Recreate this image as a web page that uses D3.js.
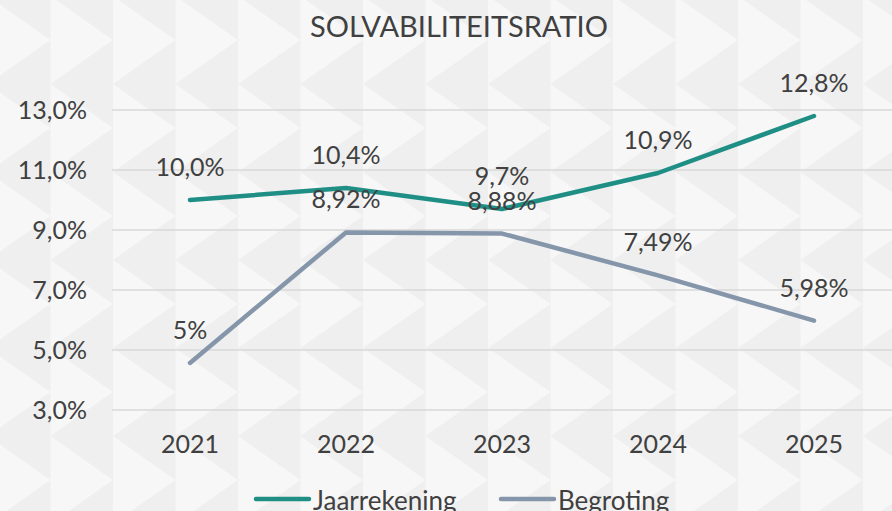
<!DOCTYPE html>
<html>
<head>
<meta charset="utf-8">
<script src="https://cdn.jsdelivr.net/npm/d3@7"></script>
<style>
  body { margin: 0; background: #f7f7f7; }
  text { font-family: Lato, "Noto Sans", sans-serif; fill: #404040; }
</style>
</head>
<body>
<div id="main"></div>
<script>
const ctx = {
    width: 892,
    height: 511
};

// data
const years = ["2021", "2022", "2023", "2024", "2025"];
const jaarrekening = [10.0, 10.4, 9.7, 10.9, 12.8];
const jaarLabels = ["10,0%", "10,4%", "9,7%", "10,9%", "12,8%"];
const begroting = [4.57, 8.92, 8.88, 7.49, 5.98];
const begrLabels = ["5%", "8,92%", "8,88%", "7,49%", "5,98%"];
const yTicks = [3, 5, 7, 9, 11, 13];

function createViz() {
    let svg = d3.select("#main").append("svg")
        .attr("width", ctx.width)
        .attr("height", ctx.height);

    // achtergrond met driehoekjes
    let defs = svg.append("defs");
    let pat = defs.append("pattern")
        .attr("id", "tri")
        .attr("patternUnits", "userSpaceOnUse")
        .attr("x", -12).attr("y", -4)
        .attr("width", 62.5).attr("height", 88);
    pat.append("rect").attr("width", 62.5).attr("height", 88).attr("fill", "#efefef");
    pat.append("path").attr("d", "M0,0 L62.5,44 L0,88 Z").attr("fill", "#f7f7f7");
    svg.append("rect").attr("width", ctx.width).attr("height", ctx.height).attr("fill", "url(#tri)");

    let x = d3.scaleBand().domain(years).range([112, 892]);
    let y = d3.scaleLinear().domain([3, 13]).range([410, 110]);

    // titel
    svg.append("text")
        .attr("x", 459).attr("y", 37)
        .attr("text-anchor", "middle")
        .style("font-size", "29px")
        .text("SOLVABILITEITSRATIO");

    // gridlijnen
    svg.append("g").selectAll("line")
        .data(yTicks).enter().append("line")
        .attr("x1", 112).attr("x2", 892)
        .attr("y1", d => y(d)).attr("y2", d => y(d))
        .attr("stroke", "#d9d9d9").attr("stroke-width", 1.3);

    svg.append("g").selectAll("text")
        .data(yTicks).enter().append("text")
        .attr("x", 87).attr("y", d => y(d) + 9)
        .attr("text-anchor", "end")
        .style("font-size", "25px")
        .text(d => d.toFixed(1).replace(".", ",") + "%");

    svg.append("g").selectAll("text")
        .data(years).enter().append("text")
        .attr("x", d => x(d) + x.bandwidth() / 2)
        .attr("y", 453)
        .attr("text-anchor", "middle")
        .style("font-size", "25px")
        .text(d => d);

    let line = d3.line()
        .x((d, i) => x(years[i]) + x.bandwidth() / 2)
        .y(d => y(d));

    const series = [
        { values: begroting, labels: begrLabels, color: "#8596ab" },
        { values: jaarrekening, labels: jaarLabels, color: "#1f8f85" }
    ];

    series.forEach(s => {
        svg.append("path")
            .datum(s.values)
            .attr("d", line)
            .attr("fill", "none")
            .attr("stroke", s.color)
            .attr("stroke-width", 4.5)
            .attr("stroke-linecap", "round")
            .attr("stroke-linejoin", "round");
    });

    series.forEach(s => {
        svg.append("g").selectAll("text")
            .data(s.values).enter().append("text")
            .attr("x", (d, i) => x(years[i]) + x.bandwidth() / 2)
            .attr("y", d => y(d) - 24)
            .attr("text-anchor", "middle")
            .style("font-size", "25px")
            .text((d, i) => s.labels[i]);
    });

    // legenda
    const legend = [
        { name: "Jaarrekening", color: "#1f8f85", x: 256 },
        { name: "Begroting", color: "#8596ab", x: 501 }
    ];
    let lg = svg.append("g");
    legend.forEach(l => {
        lg.append("line")
            .attr("x1", l.x).attr("x2", l.x + 53)
            .attr("y1", 499).attr("y2", 499)
            .attr("stroke", l.color).attr("stroke-width", 4.5)
            .attr("stroke-linecap", "round");
        lg.append("text")
            .attr("x", l.x + 57).attr("y", 510)
            .style("font-size", "26px")
            .text(l.name);
    });
}

createViz();
</script>
</body>
</html>
